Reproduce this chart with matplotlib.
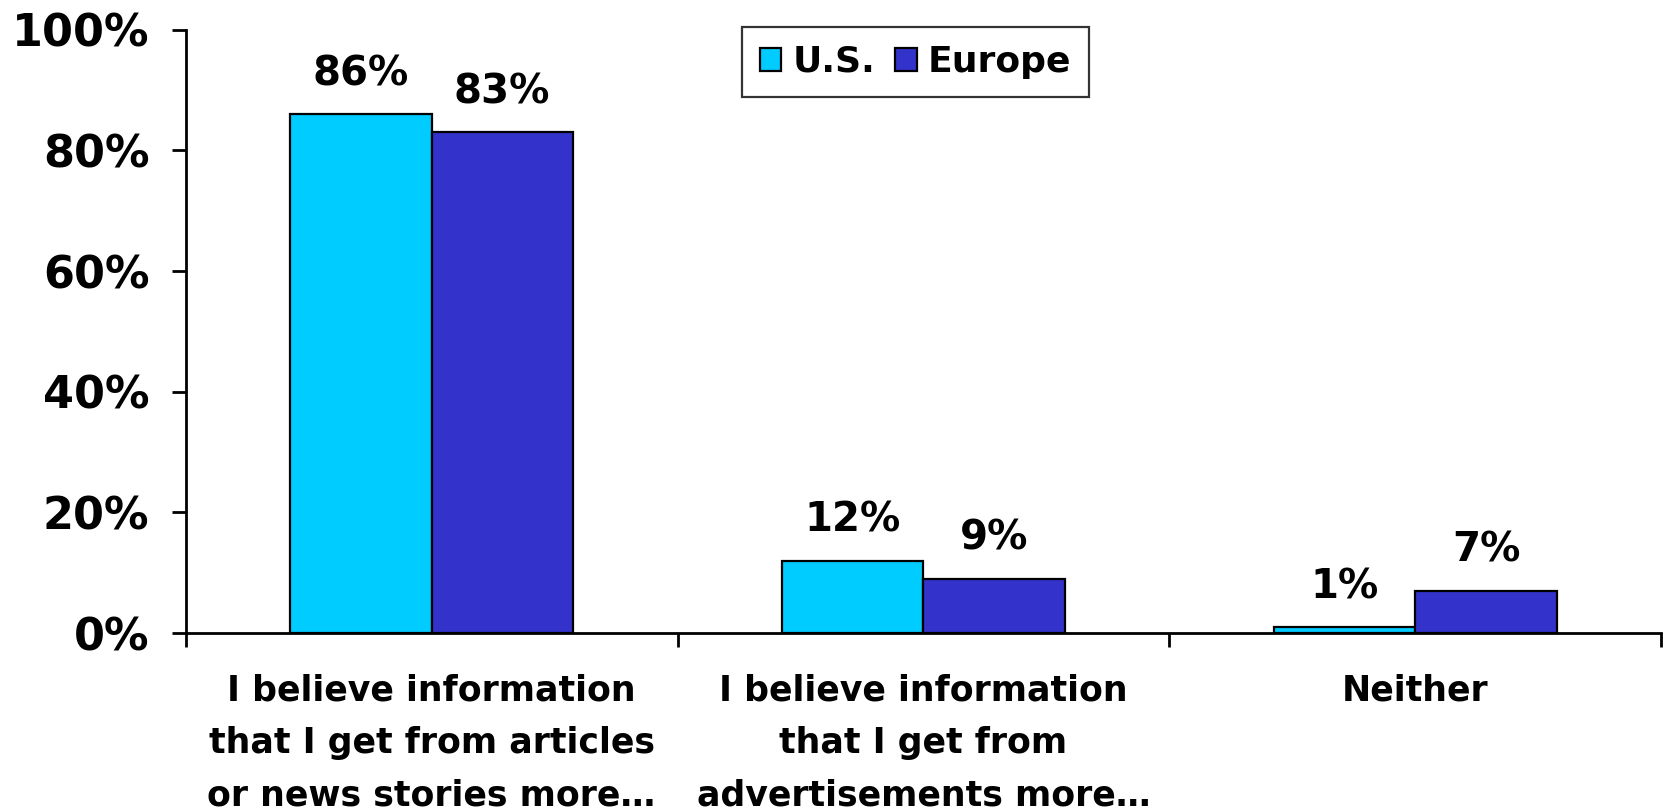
import numpy as np
import matplotlib
matplotlib.use('Agg')
import matplotlib.pyplot as plt

categories = ['I believe information\nthat I get from articles\nor news stories more…',
              'I believe information\nthat I get from\nadvertisements more…',
              'Neither']
us = [86, 12, 1]
europe = [83, 9, 7]
series_names = ['U.S.', 'Europe']
colors = ['#00CCFF', '#3333CC']
yticks = [0, 20, 40, 60, 80, 100]

plt.rcParams['font.family'] = ['DejaVu Sans']
plt.rcParams['font.weight'] = 'bold'

fig = plt.figure(figsize=(16.63, 8.10), dpi=100)
ax = fig.add_axes([0.1116, 0.2185, 0.8874, 0.7448])

x = np.arange(len(categories))
w = 0.287
b1 = ax.bar(x - w / 2, us, w, color=colors[0], edgecolor='black', linewidth=1.6, label=series_names[0])
b2 = ax.bar(x + w / 2, europe, w, color=colors[1], edgecolor='black', linewidth=1.6, label=series_names[1])

for bars, vals in ((b1, us), (b2, europe)):
    for r, v in zip(bars, vals):
        ax.text(r.get_x() + r.get_width() / 2, v + 3.3, '{}%'.format(v),
                ha='center', va='bottom', fontsize=29, fontweight='bold')

ax.set_xlim(-0.5, 2.5)
ax.set_ylim(0, 100)
ax.set_yticks(yticks)
ax.set_yticklabels(['{}%'.format(t) for t in yticks], fontsize=32, fontweight='bold')
ax.tick_params(axis='y', direction='out', length=10, width=2, pad=16)

# boundary ticks as majors, category names on minors
ax.set_xticks([-0.5, 0.5, 1.5, 2.5])
ax.set_xticklabels([])
ax.tick_params(axis='x', which='major', direction='out', length=10, width=2)
ax.set_xticks(x, minor=True)
ax.set_xticklabels(categories, minor=True, fontsize=25, fontweight='bold', linespacing=1.68)
ax.tick_params(axis='x', which='minor', length=0, pad=29)

for s in ('top', 'right'):
    ax.spines[s].set_visible(False)
for s in ('left', 'bottom'):
    ax.spines[s].set_linewidth(2)

leg = fig.legend(handles=[b1, b2], loc='upper left', bbox_to_anchor=(0.446, 0.967),
                 borderaxespad=0, ncol=2, fontsize=26, frameon=True, fancybox=False,
                 handlelength=0.6, handleheight=0.6, handletextpad=0.3,
                 columnspacing=0.55, borderpad=0.5)
leg.get_frame().set_edgecolor('black')
leg.get_frame().set_linewidth(1.6)
for t in leg.get_texts():
    t.set_fontweight('bold')

fig.savefig('out.png', dpi=100)
